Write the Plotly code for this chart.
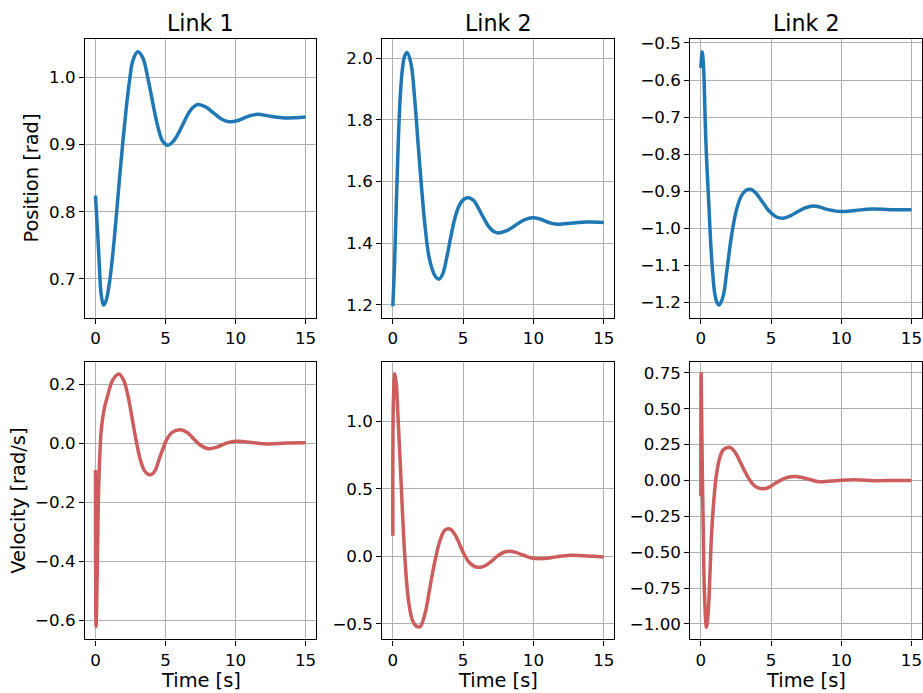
import plotly.graph_objects as go

# ---------------- data ----------------
col_titles = ["Link 1", "Link 2", "Link 2"]
row_labels = ["Position [rad]", "Velocity [rad/s]"]
time_label = "Time [s]"
x_ticks = [0, 5, 10, 15]

pos1_t = [0, 0.17, 0.29, 0.4, 0.57, 0.76, 1.0, 1.24, 1.48, 1.71, 1.95, 2.19, 2.43, 2.67, 3.02,
          3.38, 3.74, 4.1, 4.45, 4.8, 5.17, 5.52, 5.88, 6.24, 6.6, 6.95, 7.3, 7.86, 8.43, 8.99,
          9.55, 10.05, 10.55, 11.06, 11.56, 12.5, 13.5, 14.3, 15.0]
pos1_y = [0.824, 0.762, 0.713, 0.678, 0.661, 0.668, 0.695, 0.738, 0.792, 0.848, 0.903, 0.953,
          0.995, 1.025, 1.038, 1.029, 0.999, 0.961, 0.927, 0.905, 0.899, 0.904, 0.915, 0.930,
          0.945, 0.955, 0.9596, 0.956, 0.947, 0.938, 0.934, 0.935, 0.939, 0.943, 0.945, 0.942,
          0.9395, 0.940, 0.941]

pos2_t = [0, 0.12, 0.25, 0.38, 0.52, 0.68, 0.85, 1.02, 1.3, 1.55, 1.8, 2.05, 2.3, 2.55, 2.8,
          3.05, 3.28, 3.55, 3.82, 4.1, 4.38, 4.7, 5.05, 5.4, 5.75, 6.1, 6.45, 6.8, 7.15, 7.5,
          8.1, 8.7, 9.3, 9.9, 10.4, 10.85, 11.3, 11.8, 12.8, 13.8, 15.0]
pos2_y = [1.195, 1.33, 1.53, 1.72, 1.87, 1.965, 2.008, 2.018, 1.98, 1.87, 1.72, 1.575, 1.45,
          1.36, 1.315, 1.29, 1.283, 1.300, 1.350, 1.415, 1.475, 1.520, 1.542, 1.547, 1.538,
          1.512, 1.482, 1.455, 1.438, 1.433, 1.440, 1.457, 1.474, 1.482, 1.479, 1.471, 1.464,
          1.461, 1.465, 1.468, 1.467]

pos3_t = [0, 0.1, 0.21, 0.28, 0.35, 0.45, 0.57, 0.68, 0.83, 0.99, 1.15, 1.3, 1.58, 1.86, 2.17,
          2.52, 2.88, 3.2, 3.54, 3.95, 4.4, 4.9, 5.35, 5.85, 6.4, 6.95, 7.5, 8.0, 8.5, 9.0,
          9.5, 10.0, 11.0, 12.2, 13.5, 15.0]
pos3_y = [-0.567, -0.524, -0.578, -0.667, -0.756, -0.846, -0.935, -1.024, -1.113, -1.176,
          -1.200, -1.207, -1.185, -1.113, -1.024, -0.953, -0.913, -0.898, -0.895, -0.906,
          -0.930, -0.955, -0.969, -0.973, -0.966, -0.954, -0.944, -0.940, -0.943, -0.949,
          -0.953, -0.955, -0.952, -0.948, -0.950, -0.950]

vel1_t = [0, 0.04, 0.12, 0.2, 0.3, 0.42, 0.64, 0.88, 1.24, 1.67, 2.0, 2.3, 2.6, 2.9, 3.2, 3.5,
          3.75, 3.98, 4.25, 4.5, 4.8, 5.1, 5.5, 6.07, 6.55, 7.0, 7.5, 8.1, 8.7, 9.3, 10.0,
          10.6, 11.3, 12.4, 13.6, 15.0]
vel1_y = [-0.09, -0.62, -0.45, -0.20, -0.05, 0.05, 0.12, 0.164, 0.215, 0.235, 0.215, 0.165,
          0.090, 0.010, -0.055, -0.093, -0.104, -0.106, -0.093, -0.060, -0.020, 0.014, 0.038,
          0.046, 0.037, 0.016, -0.006, -0.018, -0.012, 0.000, 0.007, 0.006, 0.002, -0.002,
          0.001, 0.002]

vel2_t = [0, 0.04, 0.14, 0.25, 0.35, 0.52, 0.68, 0.87, 1.11, 1.39, 1.65, 1.93, 2.29, 2.64,
          3.0, 3.35, 3.7, 4.1, 4.53, 5.0, 5.47, 5.85, 6.23, 6.6, 7.0, 7.48, 7.9, 8.32, 8.8,
          9.3, 9.8, 10.4, 11.0, 11.6, 12.6, 13.5, 14.3, 15.0]
vel2_y = [0.152, 1.15, 1.351, 1.27, 1.069, 0.702, 0.335, -0.032, -0.325, -0.472, -0.515,
          -0.521, -0.423, -0.228, -0.032, 0.115, 0.193, 0.200, 0.139, 0.029, -0.050, -0.076,
          -0.081, -0.068, -0.037, 0.005, 0.030, 0.037, 0.027, 0.008, -0.010, -0.017, -0.014,
          -0.004, 0.008, 0.005, 0.000, -0.005]

vel3_t = [0, 0.02, 0.08, 0.17, 0.26, 0.4, 0.52, 0.64, 0.75, 0.92, 1.11, 1.34, 1.58, 1.85, 2.1,
          2.45, 2.8, 3.15, 3.5, 3.85, 4.2, 4.53, 4.9, 5.3, 5.8, 6.3, 6.7, 7.2, 7.7, 8.2, 8.7,
          9.3, 10.0, 11.0, 12.5, 13.8, 15.0]
vel3_y = [-0.111, 0.743, 0.25, -0.33, -0.79, -1.023, -0.93, -0.677, -0.40, -0.145, 0.039,
          0.155, 0.212, 0.228, 0.229, 0.195, 0.130, 0.060, 0.000, -0.040, -0.055, -0.058,
          -0.045, -0.020, 0.008, 0.024, 0.027, 0.020, 0.008, -0.005, -0.009, -0.004, 0.002,
          0.005, -0.002, 0.000, 0.000]

series = [
    (pos1_t, pos1_y), (pos2_t, pos2_y), (pos3_t, pos3_y),
    (vel1_t, vel1_y), (vel2_t, vel2_y), (vel3_t, vel3_y),
]

# ---------------- layout / style ----------------
W, H = 923, 693
FONT = "DejaVu Sans"
BLUE = "#1f77b4"
RED = "#cd5c5c"
GRID = "#b0b0b0"

col_px = [(85, 316), (382.3, 614.3), (690.3, 922)]
row_px = [(33, 315), (359, 639)]

y_ranges = [[0.6414, 1.0575], [1.156, 2.063], [-1.243, -0.4885],
            [-0.664, 0.276], [-0.615, 1.438], [-1.108, 0.826]]
y_tickvals = [[0.7, 0.8, 0.9, 1.0],
              [1.2, 1.4, 1.6, 1.8, 2.0],
              [-1.2, -1.1, -1.0, -0.9, -0.8, -0.7, -0.6, -0.5],
              [-0.6, -0.4, -0.2, 0.0, 0.2],
              [-0.5, 0.0, 0.5, 1.0],
              [-1.0, -0.75, -0.5, -0.25, 0.0, 0.25, 0.5, 0.75]]
y_fmt = [".1f", ".1f", ".1f", ".1f", ".1f", ".2f"]


def px_x(p):
    return p / W


def px_y(p):
    return 1 - p / H


fig = go.Figure()
layout = dict(
    width=W, height=H,
    margin=dict(l=0, r=0, t=0, b=0),
    paper_bgcolor="white", plot_bgcolor="white",
    showlegend=False,
    font=dict(family=FONT, size=17, color="black"),
)

for i, (t, y) in enumerate(series):
    r, c = divmod(i, 3)
    n = "" if i == 0 else str(i + 1)
    fig.add_trace(go.Scatter(
        x=t, y=y, mode="lines", xaxis="x" + n, yaxis="y" + n,
        line=dict(color=BLUE if r == 0 else RED, width=3.5, shape="spline", smoothing=1.0),
        hoverinfo="skip",
    ))
    axis_common = dict(
        showline=True, mirror=True, linecolor="black", linewidth=1.1,
        showgrid=True, gridcolor=GRID, gridwidth=1.1,
        ticks="outside", ticklen=5, tickwidth=1.1, tickcolor="black",
        tickfont=dict(family=FONT, size=16.7, color="black"),
        zeroline=False, fixedrange=True,
    )
    layout["xaxis" + n] = dict(
        axis_common,
        domain=[px_x(col_px[c][0]), px_x(col_px[c][1])],
        anchor="y" + n, range=[-0.75, 15.75],
        tickvals=x_ticks, ticktext=[str(v) for v in x_ticks],
    )
    layout["yaxis" + n] = dict(
        axis_common,
        domain=[px_y(row_px[r][1]), px_y(row_px[r][0])],
        anchor="x" + n, range=y_ranges[i],
        tickvals=y_tickvals[i], tickformat=y_fmt[i],
    )

annotations = []
for c in range(3):
    cx = px_x((col_px[c][0] + col_px[c][1]) / 2)
    annotations.append(dict(text=col_titles[c], x=cx, y=px_y(17), xref="paper", yref="paper",
                            xanchor="center", yanchor="middle", showarrow=False,
                            font=dict(family=FONT, size=22.2, color="black")))
    annotations.append(dict(text=time_label, x=cx, y=px_y(680), xref="paper", yref="paper",
                            xanchor="center", yanchor="middle", showarrow=False,
                            font=dict(family=FONT, size=19.4, color="black")))
annotations.append(dict(text=row_labels[0], x=px_x(31), y=px_y((33 + 315) / 2), xref="paper",
                        yref="paper", xanchor="center", yanchor="middle", showarrow=False,
                        textangle=-90, font=dict(family=FONT, size=19.4, color="black")))
annotations.append(dict(text=row_labels[1], x=px_x(19), y=px_y((359 + 639) / 2), xref="paper",
                        yref="paper", xanchor="center", yanchor="middle", showarrow=False,
                        textangle=-90, font=dict(family=FONT, size=19.4, color="black")))
layout["annotations"] = annotations

fig.update_layout(**layout)
fig.write_html("out.html")
